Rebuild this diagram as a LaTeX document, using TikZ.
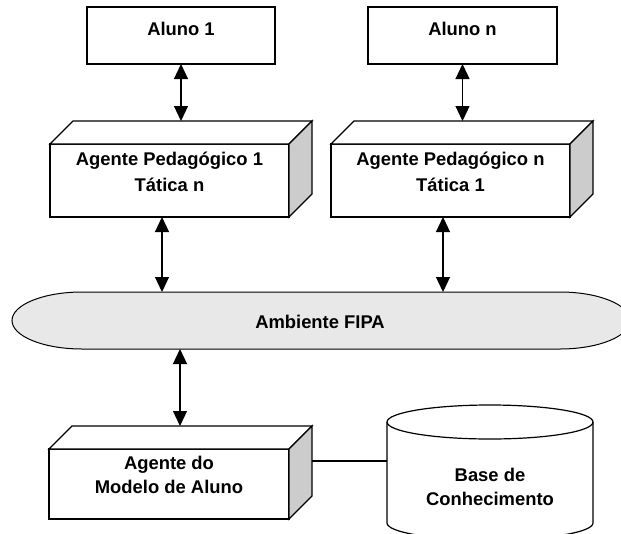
\documentclass[tikz,border=0pt]{standalone}
\usepackage{fontspec}
\setmainfont{Liberation Sans}
\usetikzlibrary{arrows.meta,calc}
\begin{document}
\begin{tikzpicture}[x=1pt,y=-1pt,
  box/.style={draw, line width=1.3pt, fill=white, inner sep=0pt, outer sep=0pt},
  face/.style={draw, line width=1.3pt, fill=white, line join=miter},
  side/.style={draw, line width=1.3pt, fill=gray!40, line join=miter},
  txt/.style={anchor=base, inner sep=0pt, font=\fontsize{18.4}{22}\selectfont\bfseries},
  arr/.style={line width=1.2pt, {Triangle[length=15pt,width=14pt]}-{Triangle[length=15pt,width=14pt]}},
  ghost/.style={inner sep=0pt, outer sep=0pt}]
\useasboundingbox (0,0) rectangle (621,533);

% student boxes
\node[box, minimum width=188, minimum height=57] (a1) at (181,35.5) {};
\node[box, minimum width=189, minimum height=57] (an) at (462.5,35.5) {};
\node[txt] (ta1) at (181,35) {Aluno 1};
\node[txt] (tan) at (462.5,35) {Aluno n};

% 3D agent boxes
\node[box, minimum width=239, minimum height=73] (p1) at (169.5,180.5) {};
\node[box, minimum width=239, minimum height=73] (pn) at (450.5,180.5) {};
\node[box, minimum width=240, minimum height=70] (m3) at (169,484) {};
\foreach \b in {p1,pn,m3}{
  \draw[face] (\b.north west) -- ++(23,-23) -- ($(\b.north east)+(23,-23)$) -- (\b.north east) -- cycle;
  \draw[side] (\b.north east) -- ++(23,-23) -- ($(\b.south east)+(23,-23)$) -- (\b.south east) -- cycle;
}
\coordinate (p1t) at ($(p1.north)+(23,-23)$);
\coordinate (pnt) at ($(pn.north)+(23,-23)$);
\coordinate (m3t) at ($(m3.north)+(23,-23)$);
\coordinate (m3r) at ($(m3.east)+(23,-23)$);

\node[txt] (tp1a) at (169.5,165) {Agente Pedagógico 1};
\node[txt] (tp1b) at (169.5,191) {Tática n};
\node[txt] (tpna) at (450.5,165) {Agente Pedagógico n};
\node[txt] (tpnb) at (450.5,191) {Tática 1};
\node[txt] (tm3a) at (169,469) {Agente do};
\node[txt] (tm3b) at (169,493) {Modelo de Aluno};

% FIPA environment
\draw[line width=1pt, fill=gray!18]
  (82,292) -- (560,292)
  .. controls (598.7,292) and (630,304.8) .. (630,320.5)
  .. controls (630,336.2) and (598.7,349) .. (560,349)
  -- (82,349)
  .. controls (43.3,349) and (12,336.2) .. (12,320.5)
  .. controls (12,304.8) and (43.3,292) .. (82,292) -- cycle;
\node[ghost, minimum width=618, minimum height=57] (fipa) at (321,320.5) {};
\node[txt] (tfipa) at (320,328) {Ambiente FIPA};

% knowledge base cylinder
\node[ghost, minimum width=206, minimum height=118] (kb) at (490,472.5) {};
\draw[line width=1.2pt, fill=white]
  (387,422) -- (387,523)
  .. controls (387,532.4) and (433.1,540) .. (490,540)
  .. controls (546.9,540) and (593,532.4) .. (593,523)
  -- (593,422)
  .. controls (593,412.6) and (546.9,405) .. (490,405)
  .. controls (433.1,405) and (387,412.6) .. (387,422) -- cycle;
\draw[line width=1.2pt]
  (387,422) .. controls (387,431.4) and (433.1,439) .. (490,439)
  .. controls (546.9,439) and (593,431.4) .. (593,422);
\node[txt] (tkba) at (490,481) {Base de};
\node[txt] (tkbb) at (490,505) {Conhecimento};

% connectors
\draw[arr] (a1.south) -- (a1.south |- p1t);
\draw[arr] (an.south) -- (an.south |- pnt);
\draw[arr] (162,0 |- p1.south) -- (162,0 |- fipa.north);
\draw[arr] (443,0 |- pn.south) -- (443,0 |- fipa.north);
\draw[arr] (180,0 |- fipa.south) -- (180,0 |- m3t);
\draw[line width=2.2pt] (m3r) -- (m3r -| kb.west);
\end{tikzpicture}
\end{document}
